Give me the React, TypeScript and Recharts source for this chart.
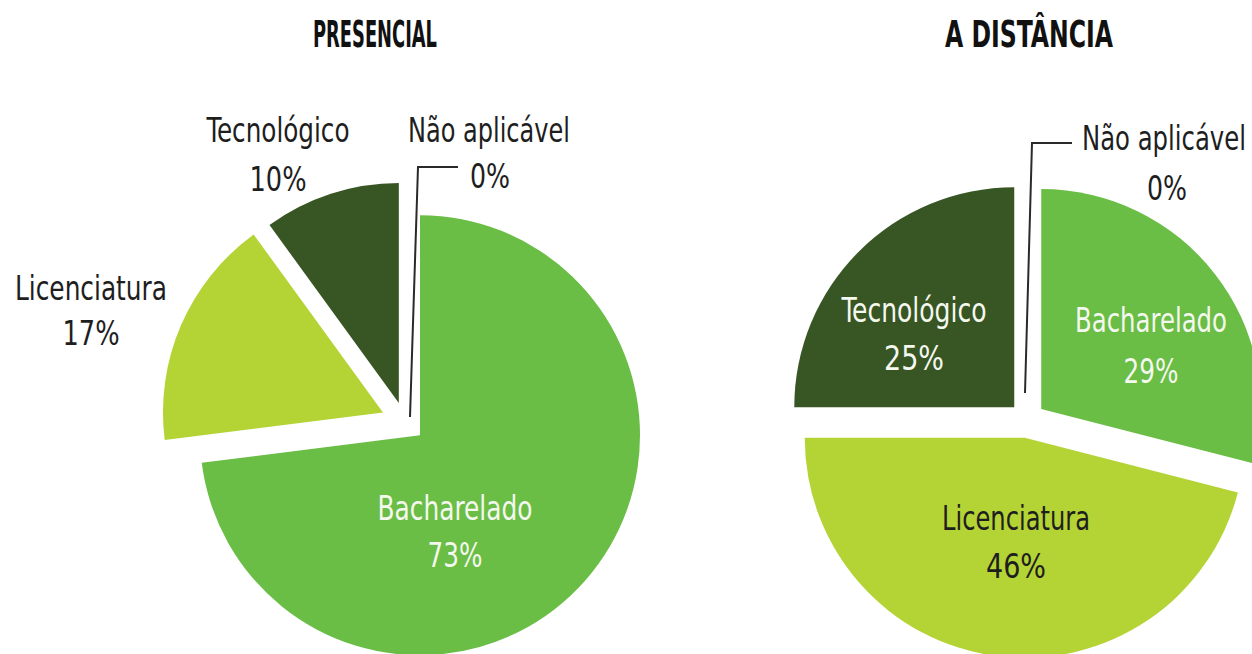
import React from 'react';
import { PieChart, Pie, Cell } from 'recharts';

// ---------- data ----------
const categories = ['Bacharelado', 'Licenciatura', 'Tecnológico', 'Não aplicável'];
const presencialValues = [73, 17, 10, 0];
const distanciaValues = [29, 46, 25, 0];
const presencialPctLabels = ['73%', '17%', '10%', '0%'];
const distanciaPctLabels = ['29%', '46%', '25%', '0%'];
const chartTitles = ['PRESENCIAL', 'A DISTÂNCIA'];

// ---------- styles / layout ----------
const W = 1252;
const H = 654;
const RADIUS = 220;
const sliceColors = ['#6abd45', '#b4d335', '#385524', '#bbbbbb'];
const FONT = "'Liberation Sans Narrow', 'DejaVu Sans Condensed', 'Noto Sans', sans-serif";
const DARK = '#1e1e1e';

type LabelLayout = { dx: number; y1: number; y2: number; w1: number; w2: number; color: string; dx2?: number };

const layouts = [
  {
    values: presencialValues,
    pct: presencialPctLabels,
    title: chartTitles[0],
    cx: 405,
    cy: 422,
    explode: [20, 24, 20, 20],
    titleX: 375,
    titleW: 124,
    labels: [
      { dx: 50, y1: 98, y2: 145, w1: 155, w2: 55, color: '#f4f8ee' },
      { dx: -314, y1: -122, y2: -77, w1: 152, w2: 57, color: DARK },
      { dx: -127, y1: -280, y2: -231, w1: 143, w2: 57, color: DARK },
      { dx: 84, dx2: 85, y1: -280, y2: -234, w1: 162, w2: 40, color: DARK },
    ] as LabelLayout[],
    leader: [[5, -5], [13, -255], [53, -255]],
  },
  {
    values: distanciaValues,
    pct: distanciaPctLabels,
    title: chartTitles[1],
    cx: 1027,
    cy: 420,
    explode: [18, 18, 18, 18],
    titleX: 1029,
    titleW: 168,
    labels: [
      { dx: 124, y1: -88, y2: -37, w1: 152, w2: 55, color: '#f4f8ee' },
      { dx: -11, y1: 110, y2: 158, w1: 148, w2: 60, color: DARK },
      { dx: -113, y1: -98, y2: -50, w1: 145, w2: 60, color: '#f4f8ee' },
      { dx: 137, dx2: 140, y1: -270, y2: -220, w1: 164, w2: 40, color: DARK },
    ] as LabelLayout[],
    leader: [[-2, -27], [5, -277], [45, -277]],
  },
];

function explodeOffset(values: number[], k: number, d: number) {
  const total = values.reduce((a, b) => a + b, 0);
  let before = 0;
  for (let i = 0; i < k; i++) before += values[i];
  const midFrac = (before + values[k] / 2) / total;
  const angle = ((90 - 360 * midFrac) * Math.PI) / 180;
  return { dx: d * Math.cos(angle), dy: -d * Math.sin(angle) };
}

function makeLabelRenderer(layout: (typeof layouts)[number]) {
  return (props: any) => {
    const i: number = props.index;
    const L = layout.labels[i];
    if (!L) return null;
    const x = layout.cx + L.dx;
    const x2 = layout.cx + (L.dx2 ?? L.dx);
    const weight = L.color === DARK ? 500 : 400;
    return (
      <g key={`lbl-${i}`}>
        {i === 0 && (
          <text
            x={layout.titleX}
            y={47}
            textAnchor="middle"
            fontFamily={FONT}
            fontWeight={700}
            fontSize={38}
            fill="#111"
            textLength={layout.titleW}
            lengthAdjust="spacingAndGlyphs"
          >
            {layout.title}
          </text>
        )}
        {i === 3 && (
          <polyline
            points={layout.leader.map(([px, py]) => `${layout.cx + px},${layout.cy + py}`).join(' ')}
            fill="none"
            stroke="#2a2a2a"
            strokeWidth={2}
          />
        )}
        <text
          x={x}
          y={layout.cy + L.y1}
          textAnchor="middle"
          fontFamily={FONT}
          fontWeight={weight}
          fontSize={34}
          fill={L.color}
          textLength={L.w1}
          lengthAdjust="spacingAndGlyphs"
        >
          {categories[i]}
        </text>
        <text
          x={x2}
          y={layout.cy + L.y2}
          textAnchor="middle"
          fontFamily={FONT}
          fontWeight={weight}
          fontSize={34}
          fill={L.color}
          textLength={L.w2}
          lengthAdjust="spacingAndGlyphs"
        >
          {layout.pct[i]}
        </text>
      </g>
    );
  };
}

export default function App() {
  return (
    <div style={{ position: 'absolute', left: 0, top: 0, width: W, height: H, background: '#fff' }}>
      <PieChart width={W} height={H} margin={{ top: 0, right: 0, bottom: 0, left: 0 }}>
        {layouts.flatMap((layout, li) => {
          const data = categories.map((name, i) => ({ name, value: layout.values[i] }));
          const renderLabel = makeLabelRenderer(layout);
          return categories.map((_, k) => {
            const off = explodeOffset(layout.values, k, layout.explode[k]);
            return (
              <Pie
                key={`pie-${li}-${k}`}
                data={data}
                dataKey="value"
                nameKey="name"
                cx={layout.cx + off.dx}
                cy={layout.cy + off.dy}
                innerRadius={0}
                outerRadius={RADIUS}
                startAngle={90}
                endAngle={-270}
                isAnimationActive={false}
                labelLine={false}
                label={k === categories.length - 1 ? renderLabel : false}
                stroke="none"
              >
                {data.map((_, i) => (
                  <Cell key={`c-${i}`} fill={i === k ? sliceColors[i] : 'transparent'} stroke="none" />
                ))}
              </Pie>
            );
          });
        })}
      </PieChart>
    </div>
  );
}
